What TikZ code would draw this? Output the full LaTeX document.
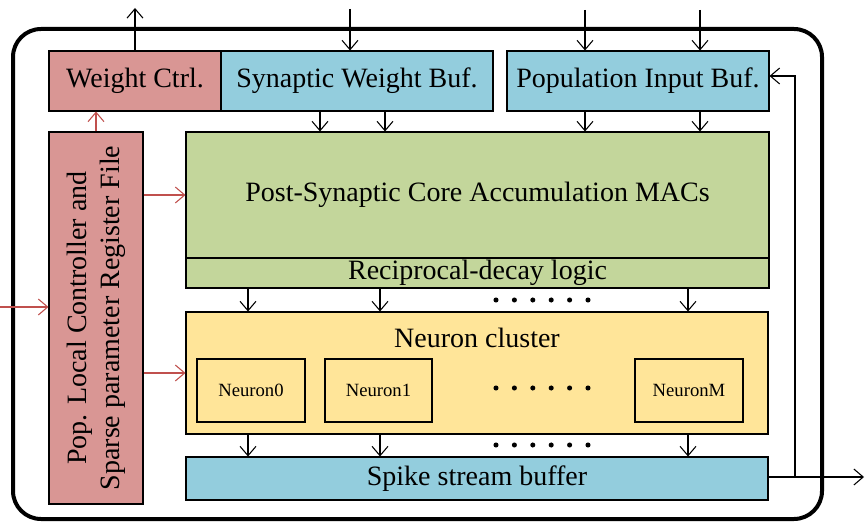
\documentclass[tikz,border=0pt]{standalone}
\usepackage{fontspec}
\setmainfont{Liberation Serif}
\usetikzlibrary{arrows.meta,fit,calc}

\definecolor{ctrlred}{HTML}{D99694}
\definecolor{bufblue}{HTML}{93CDDD}
\definecolor{macgreen}{HTML}{C3D69B}
\definecolor{cellyellow}{HTML}{FFE599}
\definecolor{arrred}{HTML}{C0504D}

\begin{document}
\begin{tikzpicture}[x=0.75pt,y=-0.75pt,
  blk/.style={draw=black, line width=0.8pt, inner sep=0pt},
  lbl/.style={font=\fontsize{21}{25}\selectfont, inner sep=0pt},
  small/.style={font=\fontsize{14}{16}\selectfont, inner sep=0pt},
  arr/.style={draw=black, line width=0.8pt, -{Straight Barb[length=7pt,width=12pt]}},
  rarr/.style={arr, draw=arrred},
  dot/.style={fill=black}
]
\useasboundingbox (0,0) rectangle (866,523);
\fill[white] (0,0) rectangle (866,523);

% outer frame
\draw[line width=3pt, rounded corners=21pt] (13,29) rectangle (822,519);

% top row
\node[blk, fill=ctrlred, fit={(49,51) (221,111)}] (wctrl) {};
\node[lbl] at (wctrl.center) {Weight Ctrl.};
\node[blk, fill=bufblue, fit={(221,51) (493,111)}] (swbuf) {};
\node[lbl] at (swbuf.center) {Synaptic Weight Buf.};
\node[blk, fill=bufblue, fit={(507,51) (769,111)}] (pibuf) {};
\node[lbl] at (pibuf.center) {Population Input Buf.};

% controller column
\node[blk, fill=ctrlred, fit={(49,132) (143,504)}] (ctrl) {};
\node[lbl, rotate=90, align=center] at (ctrl.center) {Pop. Local Controller and\\Sparse parameter Register File};

% accumulation core
\node[blk, fill=macgreen, fit={(186,132) (769,258)}] (macs) {};
\node[lbl] at (macs.center) {Post-Synaptic Core Accumulation MACs};
\node[blk, fill=macgreen, fit={(186,258) (769,288)}] (decay) {};
\node[lbl] at (decay.center) {Reciprocal-decay logic};

% neuron cluster
\node[blk, fill=cellyellow, fit={(186,312) (768,434)}] (cluster) {};
\node[lbl] (cltitle) at (477,338) {Neuron cluster};
\node[blk, fill=cellyellow, fit={(197,359) (305,422)}] (n0) {};
\node[small] at (n0.center) {Neuron0};
\node[blk, fill=cellyellow, fit={(325,359) (432,422)}] (n1) {};
\node[small] at (n1.center) {Neuron1};
\node[blk, fill=cellyellow, fit={(635,359) (743,422)}] (nm) {};
\node[small] at (nm.center) {NeuronM};

% spike buffer
\node[blk, fill=bufblue, fit={(186,457) (768,500)}] (spike) {};
\node[lbl] at (spike.center) {Spike stream buffer};

% ellipsis dots
\foreach \yy in {300,388,445}
  \foreach \k in {0,...,5}
    \fill[dot] (496+18.4*\k,\yy) circle[radius=1.9pt];

% column positions
\coordinate (xa) at (320,0);
\coordinate (xb) at (385,0);
\coordinate (xc) at (585,0);
\coordinate (xd) at (700,0);
\coordinate (xe) at (248,0);
\coordinate (xf) at (380,0);
\coordinate (xg) at (688,0);

% external inputs / outputs on top
\coordinate (wout) at (135,8);
\coordinate (sin) at (350,9);
\coordinate (pin1) at (585,10);
\coordinate (pin2) at (700,10);
\draw[arr] (wctrl.north) -- (wctrl.north |- wout);
\draw[arr] (sin) -- (sin |- swbuf.north);
\draw[arr] (pin1) -- (pin1 |- pibuf.north);
\draw[arr] (pin2) -- (pin2 |- pibuf.north);

% buffers into the MAC core
\draw[arr] (swbuf.south -| xa) -- (macs.north -| xa);
\draw[arr] (swbuf.south -| xb) -- (macs.north -| xb);
\draw[arr] (pibuf.south -| xc) -- (macs.north -| xc);
\draw[arr] (pibuf.south -| xd) -- (macs.north -| xd);

% decay logic into neurons, neurons into spike buffer
\foreach \c in {xe,xf,xg} {
  \draw[arr] (decay.south -| \c) -- (cluster.north -| \c);
  \draw[arr] (cluster.south -| \c) -- (spike.north -| \c);
}

% controller links
\coordinate (cin) at (0,307);
\draw[rarr] (cin) -- (cin -| ctrl.west);
\draw[rarr] (ctrl.east |- macs.west) -- (macs.west);
\draw[rarr] (ctrl.east |- cluster.west) -- (cluster.west);
\draw[rarr] (ctrl.north) -- (ctrl.north |- wctrl.south);

% spike output and feedback to the population input buffer
\coordinate (sout) at (864,477);
\coordinate (fbbot) at (795,477);
\coordinate (fbtop) at (795,76);
\draw[arr] (spike.east |- sout) -- (sout);
\draw[arr] (fbbot) -- (fbtop) -- (pibuf.east |- fbtop);
\end{tikzpicture}
\end{document}
